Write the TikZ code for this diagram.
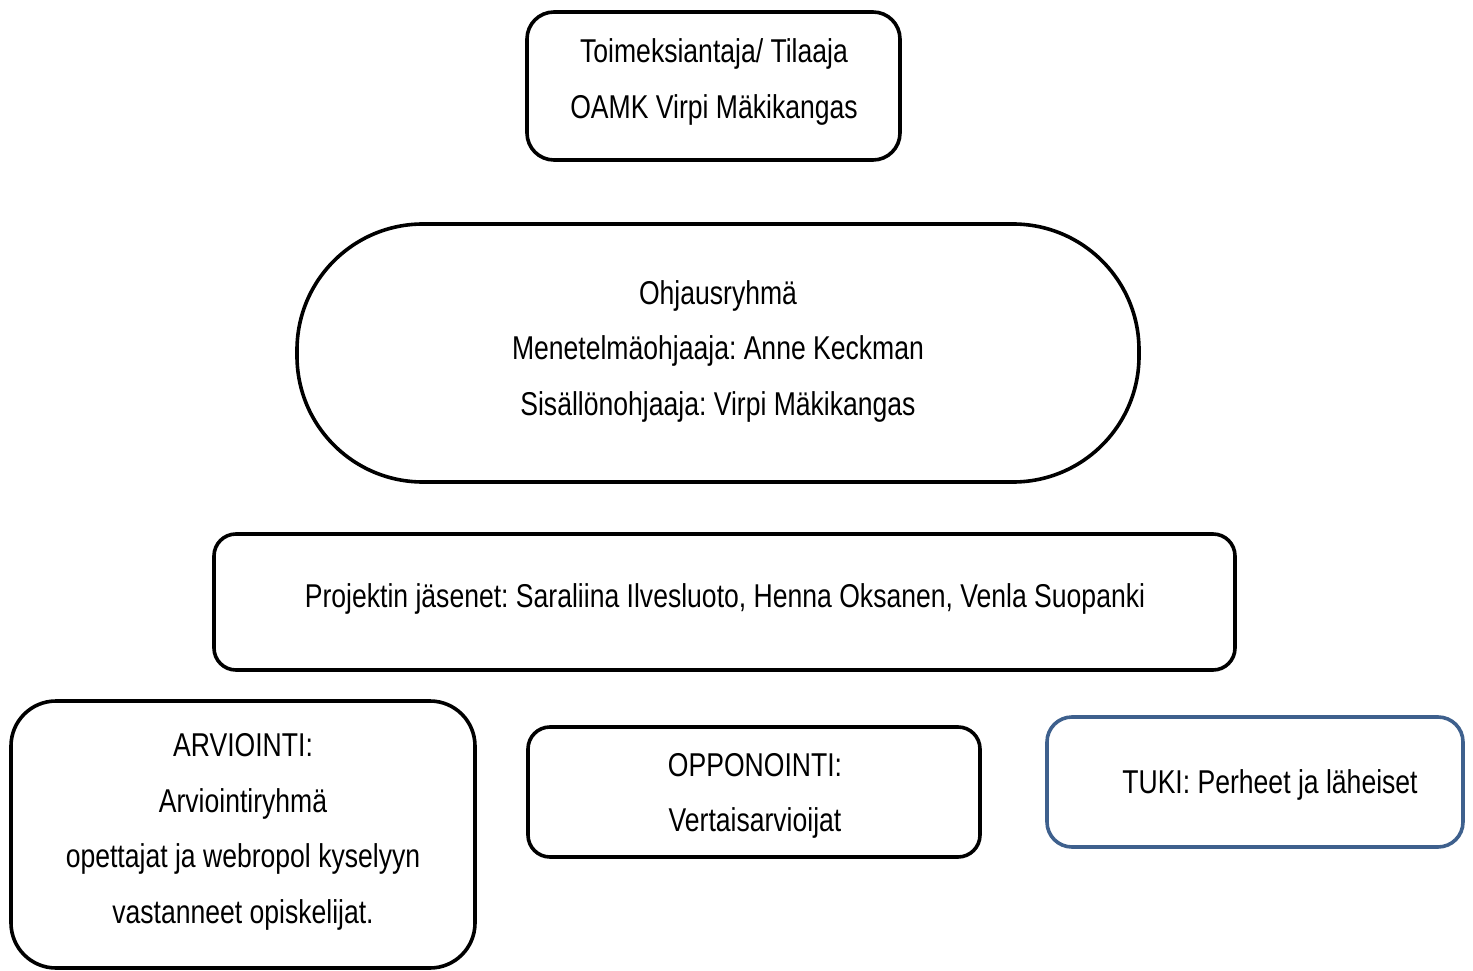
\documentclass[tikz,border=0pt]{standalone}
\usepackage{fontspec}
\setmainfont{Liberation Sans}[FakeStretch=0.805]
\definecolor{tukiblue}{RGB}{62,96,141}
\begin{document}
\frenchspacing
\begin{tikzpicture}[x=1pt,y=-1pt,
  box/.style={draw=black,line width=3.6pt,fill=white,inner sep=0pt,align=center,
    font=\fontsize{33}{55.5}\selectfont},
  txt/.style={inner sep=0pt,align=center,font=\fontsize{33}{55.5}\selectfont\frenchspacing}]
\useasboundingbox[fill=white] (0,0) rectangle (1473,971);
\node[box,rounded corners=27pt,minimum width=373pt,minimum height=148pt] (top) at (713.5,86) {};
\node[txt] (topt) at (714,82) {Toimeksiantaja/ Tilaaja\\OAMK Virpi Mäkikangas};
\node[box,rounded corners=126pt,minimum width=842pt,minimum height=258pt] (ohj) at (718,353) {};
\node[txt] (ohjt) at (718,351) {Ohjausryhmä\\Menetelmäohjaaja: Anne Keckman\\Sisällönohjaaja: Virpi Mäkikangas};
\node[box,rounded corners=22pt,minimum width=1021pt,minimum height=136pt] (proj) at (724.5,602) {};
\node[txt] (projt) at (725,598.5) {Projektin jäsenet: Saraliina Ilvesluoto, Henna Oksanen, Venla Suopanki};
\node[box,rounded corners=45pt,minimum width=464pt,minimum height=267pt] (arv) at (243,834.5) {};
\node[txt] (arvt) at (243,832) {ARVIOINTI:\\Arviointiryhmä\\opettajat ja webropol kyselyyn\\vastanneet opiskelijat.};
\node[box,rounded corners=22pt,minimum width=452pt,minimum height=130pt] (opp) at (754,792) {};
\node[txt] (oppt) at (755,796) {OPPONOINTI:\\Vertaisarvioijat};
\node[box,draw=tukiblue,rounded corners=25pt,minimum width=416pt,minimum height=130pt] (tuki) at (1255,782) {};
\node[txt] (tukit) at (1270,785) {TUKI: Perheet ja läheiset};
\end{tikzpicture}
\end{document}
